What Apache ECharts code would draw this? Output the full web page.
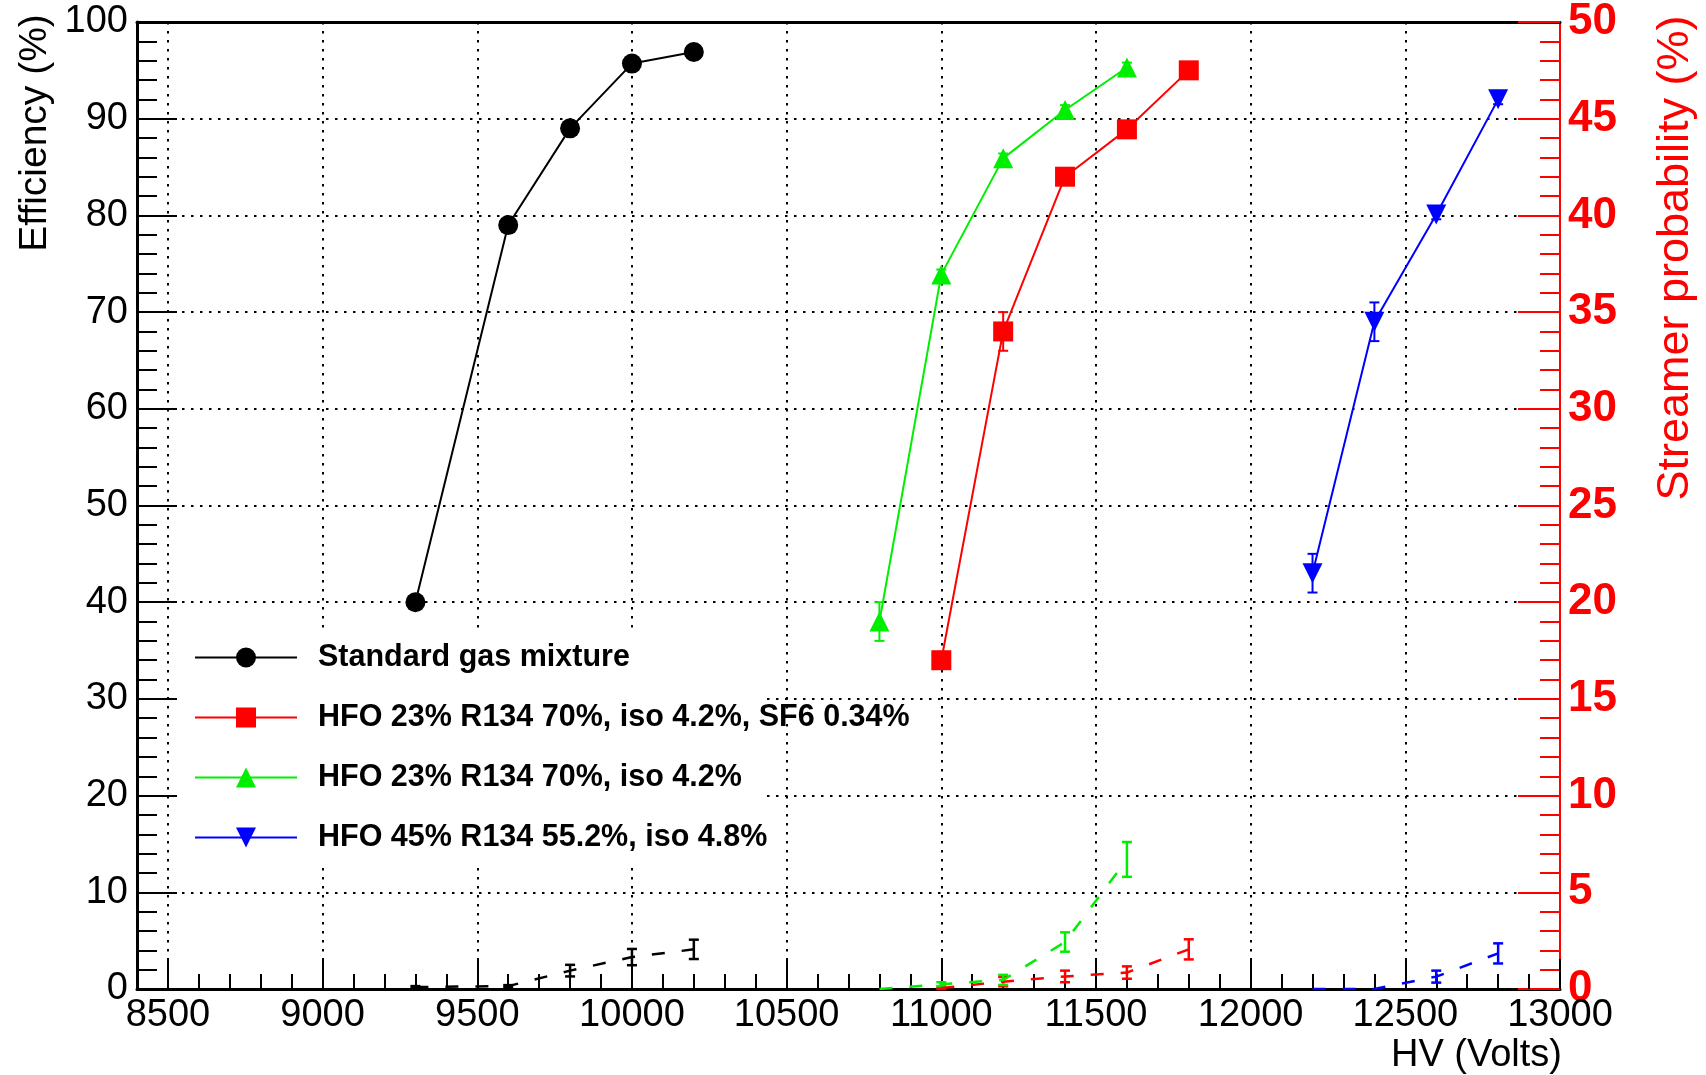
<!DOCTYPE html>
<html><head><meta charset="utf-8">
<script src="https://cdn.jsdelivr.net/npm/echarts@6/dist/echarts.min.js"></script>
<style>html,body{margin:0;padding:0;background:#fff}#c{width:1706px;height:1075px}</style>
</head><body><div id="c"></div>
<script>
// ---------- data ----------
const seriesNames = [
  'Standard gas mixture',
  'HFO 23% R134 70%, iso 4.2%, SF6 0.34%',
  'HFO 23% R134 70%, iso 4.2%',
  'HFO 45% R134 55.2%, iso 4.8%'
];
// Standard gas mixture
const stdHV = [9300, 9600, 9800, 10000, 10200];
const stdEff = [40.0, 79.0, 89.0, 95.7, 96.9];
const stdEffErr = [0.5, 0.5, 0.5, 0.5, 0.5];
const stdStr = [0.1, 0.15, 0.95, 1.65, 2.05];
const stdStrErr = [0.05, 0.05, 0.3, 0.42, 0.5];
// HFO 23% R134 70%, iso 4.2%, SF6 0.34%
const sf6HV = [11000, 11200, 11400, 11600, 11800];
const sf6Eff = [34.0, 68.0, 84.0, 88.9, 95.0];
const sf6EffErr = [0.5, 2, 0.5, 0.5, 0.5];
const sf6Str = [0.05, 0.38, 0.65, 0.85, 2.05];
const sf6StrErr = [0.05, 0.24, 0.3, 0.32, 0.52];
// HFO 23% R134 70%, iso 4.2%
const hfo23HV = [10800, 11000, 11200, 11400, 11600];
const hfo23Eff = [38.0, 73.9, 85.9, 90.9, 95.3];
const hfo23EffErr = [2, 0.5, 0.5, 0.5, 0.5];
const hfo23Str = [0.0, 0.25, 0.47, 2.43, 6.7];
const hfo23StrErr = [0.0, 0.1, 0.26, 0.5, 0.9];
// HFO 45% R134 55.2%, iso 4.8%
const hfo45HV = [12200, 12400, 12600, 12800];
const hfo45Eff = [43.0, 69.0, 80.1, 92.0];
const hfo45EffErr = [2, 2, 0.5, 0.5];
const hfo45Str = [0.0, 0.0, 0.64, 1.84];
const hfo45StrErr = [0.0, 0.0, 0.31, 0.52];

const xMin = 8400, xMax = 13000;
const effMin = 0, effMax = 100, effStep = 10;
const strMin = 0, strMax = 50, strStep = 5;

// ---------- build ----------
const FONT = "'Liberation Sans', Arial, Helvetica, sans-serif";
const colors = ['#000000', '#ff0000', '#00ee00', '#0000ff'];
const symbols = ['circle', 'rect', 'triangle', 'triangle'];
const rotates = [0, 0, 0, 180];
const groups = [
  [stdHV, stdEff, stdEffErr, stdStr, stdStrErr],
  [sf6HV, sf6Eff, sf6EffErr, sf6Str, sf6StrErr],
  [hfo23HV, hfo23Eff, hfo23EffErr, hfo23Str, hfo23StrErr],
  [hfo45HV, hfo45Eff, hfo45EffErr, hfo45Str, hfo45StrErr]
];
const pairs = (xs, ys) => xs.map((x, i) => [x, ys[i]]);
const triples = (xs, ys, es) => xs.map((x, i) => [x, ys[i], es[i]]);

function errRender(capHalf, width, color) {
  return function (params, api) {
    const x = api.value(0), y = api.value(1), e = api.value(2);
    if (!(e > 0)) return;
    const top = api.coord([x, y + e]);
    const bot = api.coord([x, y - e]);
    const style = { stroke: color, lineWidth: width };
    return { type: 'group', children: [
      { type: 'line', shape: { x1: top[0], y1: top[1], x2: bot[0], y2: bot[1] }, style: style },
      { type: 'line', shape: { x1: top[0] - capHalf, y1: top[1], x2: top[0] + capHalf, y2: top[1] }, style: style },
      { type: 'line', shape: { x1: bot[0] - capHalf, y1: bot[1], x2: bot[0] + capHalf, y2: bot[1] }, style: style }
    ]};
  };
}

const series = [];
groups.forEach((g, i) => {
  series.push({
    name: seriesNames[i] + ' err', type: 'custom', xAxisIndex: 0, yAxisIndex: 0,
    renderItem: errRender(5, 2, colors[i]), data: triples(g[0], g[1], g[2]),
    encode: { x: 0, y: 1 }, z: 2, silent: true
  });
  series.push({
    name: seriesNames[i] + ' streamer err', type: 'custom', xAxisIndex: 0, yAxisIndex: 1,
    renderItem: errRender(5, 2.5, colors[i]), data: triples(g[0], g[3], g[4]),
    encode: { x: 0, y: 1 }, z: 2, silent: true
  });
  series.push({
    name: seriesNames[i] + ' streamer', type: 'line', xAxisIndex: 0, yAxisIndex: 1,
    data: pairs(g[0], g[3]), showSymbol: false, symbol: 'none',
    lineStyle: { color: colors[i], width: 2.5, type: [13, 17] }, itemStyle: { color: colors[i] },
    z: 2, silent: true
  });
});
groups.forEach((g, i) => {
  series.push({
    name: seriesNames[i], type: 'line', xAxisIndex: 0, yAxisIndex: 0,
    data: pairs(g[0], g[1]), symbol: symbols[i], symbolSize: 20, symbolRotate: rotates[i],
    showSymbol: true, lineStyle: { color: colors[i], width: 2 },
    itemStyle: { color: colors[i], opacity: 1 }, z: 3, silent: true
  });
});

const dotted = { color: '#000', width: 2, type: [2.5, 6.5] };

const option = {
  animation: false,
  backgroundColor: '#fff',
  grid: { left: 137, right: 146, top: 22, bottom: 86, containLabel: false, outerBoundsMode: 'none' },
  xAxis: [{
    type: 'value', min: xMin, max: xMax, splitNumber: 9, position: 'bottom',
    axisLine: { show: true, onZero: false, lineStyle: { color: '#000', width: 3 } },
    axisTick: { show: true, inside: true, length: 30, lineStyle: { color: '#000', width: 2 } },
    minorTick: { show: true, splitNumber: 5, length: 15, lineStyle: { color: '#000', width: 2 } },
    axisLabel: { fontSize: 38, fontFamily: FONT, color: '#000', margin: 8,
      formatter: v => (v % 500 === 0 ? String(v) : '') },
    splitLine: { show: true, showMinLine: false, showMaxLine: false, lineStyle: dotted },
    minorSplitLine: { show: false }
  }, {
    type: 'value', min: xMin, max: xMax, splitNumber: 9, position: 'top',
    axisLine: { show: true, onZero: false, lineStyle: { color: '#000', width: 3 } },
    axisTick: { show: false }, axisLabel: { show: false }, splitLine: { show: false }
  }],
  yAxis: [{
    type: 'value', min: effMin, max: effMax, interval: effStep, position: 'left',
    axisLine: { show: true, onZero: false, lineStyle: { color: '#000', width: 3 } },
    axisTick: { show: true, inside: true, length: 40, lineStyle: { color: '#000', width: 2 } },
    minorTick: { show: true, splitNumber: 5, length: 20, lineStyle: { color: '#000', width: 2 } },
    axisLabel: { fontSize: 38, fontFamily: FONT, color: '#000', margin: 9 },
    splitLine: { show: true, showMinLine: false, showMaxLine: false, lineStyle: dotted }
  }, {
    type: 'value', min: strMin, max: strMax, interval: strStep, position: 'right',
    axisLine: { show: true, onZero: false, lineStyle: { color: '#ff0000', width: 2 } },
    axisTick: { show: true, inside: true, length: 42, lineStyle: { color: '#ff0000', width: 2 } },
    minorTick: { show: true, splitNumber: 5, length: 20, lineStyle: { color: '#ff0000', width: 2 } },
    axisLabel: { fontSize: 44, fontWeight: 'bold', fontFamily: FONT, color: '#ff0000', margin: 8 },
    splitLine: { show: false }
  }],
  legend: {
    data: seriesNames, orient: 'vertical', left: 194, top: 642, padding: 0,
    itemWidth: 102, itemHeight: 25, itemGap: 29, selectedMode: false,
    textStyle: { fontSize: 30.5, fontWeight: 'bold', fontFamily: FONT, color: '#000',
      lineHeight: 25, padding: [0, 0, 0, 16] },
    z: 5
  },
  graphic: [
    { type: 'rect', z: 1, silent: true, shape: { x: 180, y: 628, width: 587, height: 237 },
      style: { fill: '#ffffff' } },
    { type: 'text', x: 35, y: 133, rotation: Math.PI / 2, z: 5,
      style: { text: 'Efficiency (%)', fontSize: 39, fontFamily: FONT, fill: '#000',
        textAlign: 'center', textVerticalAlign: 'middle', align: 'center', verticalAlign: 'middle' } },
    { type: 'text', x: 1562, y: 1056, z: 5,
      style: { text: 'HV (Volts)', fontSize: 38, fontFamily: FONT, fill: '#000',
        textAlign: 'right', textVerticalAlign: 'middle', align: 'right', verticalAlign: 'middle' } },
    { type: 'text', x: 1676, y: 258, rotation: Math.PI / 2, z: 5,
      style: { text: 'Streamer probability (%)', fontSize: 45, fontFamily: FONT, fill: '#ff0000',
        textAlign: 'center', textVerticalAlign: 'middle', align: 'center', verticalAlign: 'middle' } }
  ],
  series: series
};

const chart = echarts.init(document.getElementById('c'), null, { renderer: 'canvas', width: 1706, height: 1075 });
chart.setOption(option);
</script>
</body></html>
